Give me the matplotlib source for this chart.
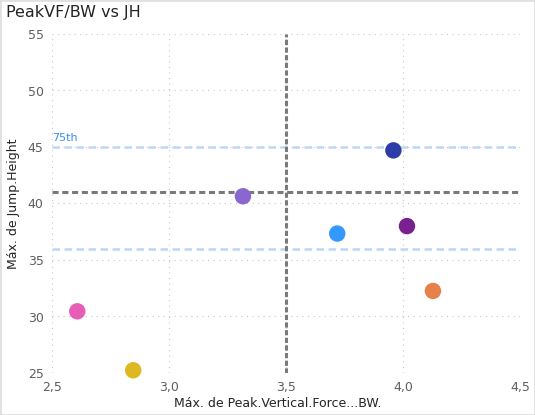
import matplotlib
matplotlib.use("Agg")
import matplotlib.pyplot as plt
from matplotlib.patches import Rectangle

# Data
peak_vf_bw = [2.608, 2.847, 3.316, 3.719, 3.959, 4.017, 4.128]
jump_height = [30.46, 25.24, 40.64, 37.34, 44.70, 38.00, 32.26]
colors = ["#E85DB5", "#DDB820", "#8A67D0", "#3399FF", "#2D3DA8", "#7A2190", "#E8804A"]

x_ref = 3.5
y_ref = 41.0
percentile_lines = [45.0, 36.0]
percentile_label = "75th"

xticks = [2.5, 3.0, 3.5, 4.0, 4.5]
yticks = [25, 30, 35, 40, 45, 50, 55]

W, H = 535, 415
fig = plt.figure(figsize=(W / 100, H / 100), dpi=100)
ax = fig.add_axes([52 / W, 1 - 373 / H, (520 - 52) / W, (373 - 34) / H])

ax.set_xlim(2.5, 4.5)
ax.set_ylim(25, 55)
ax.set_xticks(xticks)
ax.set_yticks(yticks)
ax.set_xticklabels([f"{t:.1f}".replace(".", ",") for t in xticks])
ax.set_yticklabels([str(t) for t in yticks])
ax.tick_params(length=0, labelsize=9, colors="#605E5C", pad=6)
for s in ax.spines.values():
    s.set_visible(False)
ax.grid(True, color="#C8C8C8", linestyle=(0, (1, 4)), linewidth=0.8)
ax.set_axisbelow(True)

for yv in percentile_lines:
    ax.axhline(yv, color="#BCD8F7", linestyle=(0, (3, 1.8)), linewidth=1.8, zorder=1)
ax.text(2.5, 45.35, percentile_label, color="#3A8DF0", fontsize=8, ha="left", va="bottom")

ax.axhline(y_ref, color="#7A7A7A", linestyle=(0, (2, 1.2)), linewidth=2.2, zorder=2)
ax.axvline(x_ref, color="#7A7A7A", linestyle=(0, (1.7, 0.8)), linewidth=2.2, zorder=2)

ax.scatter(peak_vf_bw, jump_height, s=140, c=colors, zorder=5, clip_on=False, linewidths=0)

ax.set_xlabel("Máx. de Peak.Vertical.Force...BW.", fontsize=9, color="#252423")
ax.set_ylabel("Máx. de Jump.Height", fontsize=9, color="#252423")
ax.xaxis.set_label_coords((278 - 52) / 468, (373 - 397) / 339)
ax.yaxis.set_label_coords((20 - 52) / 468, (373 - 203.5) / 339)

fig.text(6 / W, 1 - 12 / H, "PeakVF/BW vs JH", fontsize=11.5, color="#252423", ha="left", va="center")
fig.patches.append(Rectangle((0, 0), 1, 1, transform=fig.transFigure, fill=False,
                             edgecolor="#E0E0E0", linewidth=2))

fig.savefig("out.png", dpi=100)
